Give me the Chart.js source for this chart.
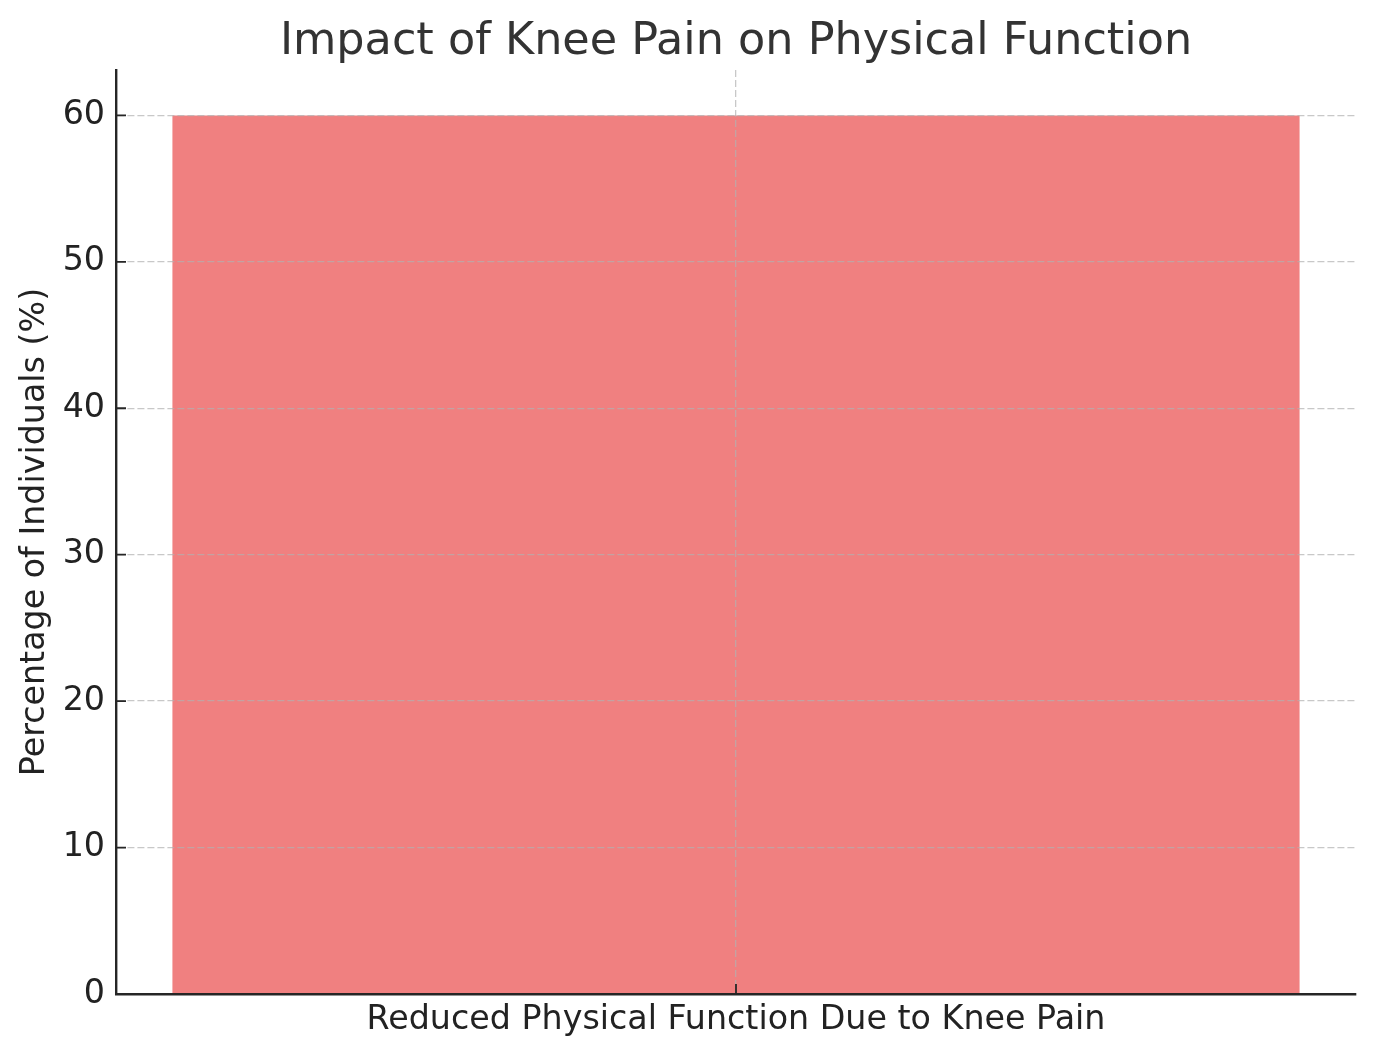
<!DOCTYPE html>
<html>
<head>
<meta charset="utf-8">
<script src="https://cdn.jsdelivr.net/npm/chart.js@4/dist/chart.umd.min.js"></script>
<style>
  body { margin: 0; background: #fff; }
  canvas { display: block; }
</style>
</head>
<body>
<canvas id="barChart" width="1376" height="1057"></canvas>
<script>
// chart values
const categories = ['Reduced Physical Function Due to Knee Pain']
const percentages = [60]
const yTicks = [0, 10, 20, 30, 40, 50, 60]

const chartTitle = 'Impact of Knee Pain on Physical Function'
const yTitle = 'Percentage of Individuals (%)'

const fontFamily = '"DejaVu Sans", sans-serif'
const axisColor = '#262626'
const gridColor = 'rgba(176, 176, 176, 0.7)'

// small inward tick marks, like the original
const innerTicks = {
    id: 'innerTicks',
    afterDraw: function (chart) {
        const ctx = chart.ctx
        const xs = chart.scales.x
        const ys = chart.scales.y
        ctx.save()
        ctx.strokeStyle = axisColor
        ctx.lineWidth = 1.8
        ctx.beginPath()
        ys.ticks.forEach(function (t, i) {
            const py = ys.getPixelForTick(i)
            ctx.moveTo(ys.right, py)
            ctx.lineTo(ys.right + 10, py)
        })
        xs.ticks.forEach(function (t, i) {
            const px = xs.getPixelForTick(i)
            ctx.moveTo(px, xs.top)
            ctx.lineTo(px, xs.top - 10)
        })
        ctx.stroke()
        ctx.restore()
    }
}

const data = {
    labels: categories,
    datasets: [{
        data: percentages,
        backgroundColor: '#F08080',
        borderWidth: 0,
        barPercentage: 0.909,
        categoryPercentage: 1.0
    }]
}

const config = {
    type: 'bar',
    data: data,
    plugins: [innerTicks],
    options: {
        responsive: false,
        animation: false,
        devicePixelRatio: 1,
        layout: {
            padding: { left: 0, right: 20, top: 0, bottom: 0 }
        },
        plugins: {
            legend: { display: false },
            tooltip: { enabled: false },
            title: {
                display: true,
                fullSize: false,
                text: chartTitle,
                color: '#333333',
                font: { family: fontFamily, size: 44.5, weight: 'normal' },
                padding: { top: 15.5, bottom: 1.1 }
            }
        },
        scales: {
            x: {
                offset: true,
                grid: {
                    z: 1,
                    offset: false,
                    color: gridColor,
                    lineWidth: 1.3,
                    drawTicks: false
                },
                border: { display: true, z: 2, color: axisColor, width: 2.4, dash: [7, 3] },
                ticks: {
                    color: '#222222',
                    font: { family: fontFamily, size: 33.3 },
                    padding: 6,
                    maxRotation: 0
                },
                afterFit: function (scale) { scale.height = 63 }
            },
            y: {
                min: 0,
                max: 63.1,
                grid: {
                    z: 1,
                    color: function (c) {
                        return c.tick && c.tick.value === 0 ? 'rgba(0,0,0,0)' : gridColor
                    },
                    lineWidth: 1.3,
                    drawTicks: false
                },
                border: { display: true, z: 2, color: axisColor, width: 2.4, dash: [7, 3] },
                ticks: {
                    stepSize: 10,
                    color: '#222222',
                    font: { family: fontFamily, size: 33.3 },
                    padding: 11
                },
                afterBuildTicks: function (scale) {
                    scale.ticks = yTicks.map(v => ({ value: v }))
                },
                title: {
                    display: true,
                    text: yTitle,
                    color: '#222222',
                    font: { family: fontFamily, size: 33.3 },
                    padding: { top: 15, bottom: 0 }
                },
                afterFit: function (scale) { scale.width = 116 }
            }
        }
    }
}

new Chart(document.getElementById('barChart'), config)
</script>
</body>
</html>
